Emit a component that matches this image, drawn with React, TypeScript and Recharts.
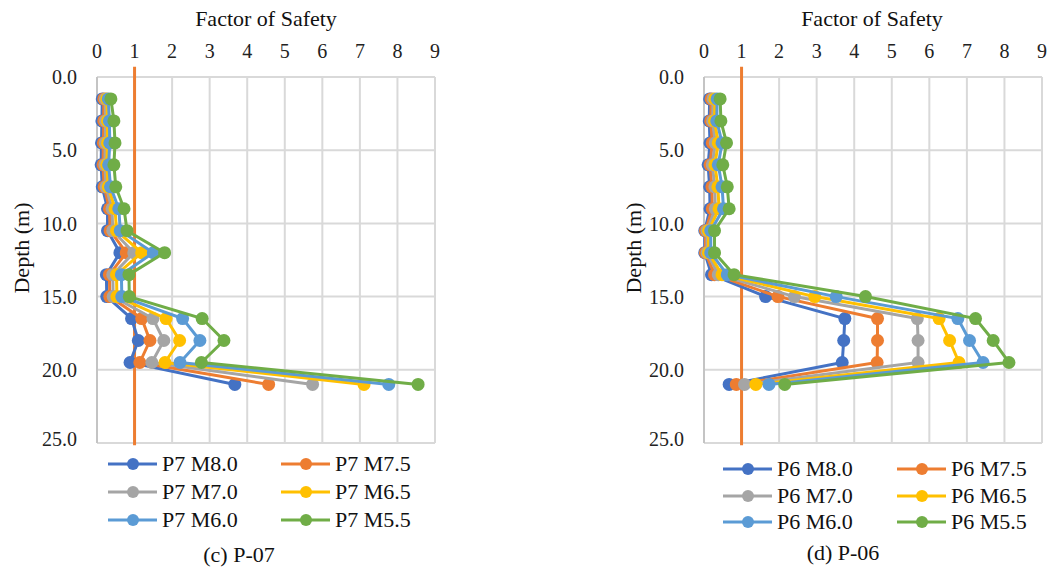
import React from "react";
import {
  ScatterChart,
  Scatter,
  XAxis,
  YAxis,
  CartesianGrid,
  ReferenceLine,
} from "recharts";

const depths = [1.5, 3, 4.5, 6, 7.5, 9, 10.5, 12, 13.5, 15, 16.5, 18, 19.5, 21];
const fsTicks = [0, 1, 2, 3, 4, 5, 6, 7, 8, 9];
const depthTicks = [0, 5, 10, 15, 20, 25];
const magnitudes = ["M8.0", "M7.5", "M7.0", "M6.5", "M6.0", "M5.5"];
const colors = ["#4472C4", "#ED7D31", "#A5A5A5", "#FFC000", "#5B9BD5", "#70AD47"];

// P-07, factor of safety per depth
const p7M80 = [0.14, 0.13, 0.12, 0.11, 0.14, 0.28, 0.28, 0.61, 0.25, 0.26, 0.92, 1.1, 0.88, 3.67];
const p7M75 = [0.18, 0.18, 0.17, 0.16, 0.19, 0.33, 0.35, 0.78, 0.33, 0.34, 1.19, 1.41, 1.14, 4.57];
const p7M70 = [0.22, 0.23, 0.22, 0.21, 0.24, 0.4, 0.42, 0.98, 0.42, 0.43, 1.49, 1.78, 1.46, 5.74];
const p7M65 = [0.26, 0.28, 0.28, 0.26, 0.3, 0.48, 0.52, 1.19, 0.52, 0.53, 1.84, 2.2, 1.81, 7.11];
const p7M60 = [0.3, 0.33, 0.34, 0.31, 0.36, 0.58, 0.62, 1.5, 0.65, 0.66, 2.28, 2.74, 2.21, 7.77];
const p7M55 = [0.37, 0.45, 0.48, 0.45, 0.5, 0.72, 0.8, 1.8, 0.85, 0.86, 2.8, 3.38, 2.78, 8.55];

// P-06
const p6M80 = [0.15, 0.14, 0.16, 0.11, 0.15, 0.16, 0.02, 0.02, 0.2, 1.64, 3.75, 3.72, 3.68, 0.67];
const p6M75 = [0.19, 0.18, 0.22, 0.16, 0.21, 0.22, 0.04, 0.04, 0.28, 1.97, 4.62, 4.62, 4.61, 0.86];
const p6M70 = [0.24, 0.23, 0.3, 0.22, 0.29, 0.3, 0.08, 0.08, 0.38, 2.41, 5.68, 5.7, 5.7, 1.08];
const p6M65 = [0.29, 0.28, 0.38, 0.29, 0.37, 0.4, 0.12, 0.12, 0.48, 2.95, 6.26, 6.54, 6.79, 1.38];
const p6M60 = [0.35, 0.34, 0.48, 0.38, 0.48, 0.52, 0.18, 0.18, 0.62, 3.52, 6.76, 7.07, 7.43, 1.73];
const p6M55 = [0.43, 0.45, 0.6, 0.5, 0.62, 0.67, 0.28, 0.28, 0.8, 4.3, 7.23, 7.7, 8.12, 2.15];

const FONT = "Liberation Serif, DejaVu Serif, serif";

const toPoints = (vals: number[]) => vals.map((fs, i) => ({ x: fs, y: depths[i] }));

const Dot = (color: string) => (p: any) => <circle cx={p.cx} cy={p.cy} r={6.5} fill={color} />;

type PanelProps = {
  left: number;
  width: number;
  marginLeft: number;
  marginRight: number;
  prefix: string;
  series: number[][];
  caption: string;
  titleX: number;
  depthX: number;
  legendCols: number[];
  legendRows: number[];
  captionX: number;
  captionY: number;
};

const Panel = (props: PanelProps) => {
  const { left, width, marginLeft, marginRight, prefix, series } = props;
  return (
    <>
      <div style={{ position: "absolute", left, top: 0 }}>
        <ScatterChart
          width={width}
          height={450}
          margin={{ top: 0, right: marginRight, bottom: 7, left: marginLeft }}
        >
          <CartesianGrid stroke="#d9d9d9" strokeWidth={2} />
          <XAxis
            type="number"
            dataKey="x"
            orientation="top"
            domain={[0, 9]}
            ticks={fsTicks}
            height={77}
            axisLine={false}
            tickLine={false}
            tickSize={0}
            tickMargin={19}
            tick={{ fontFamily: FONT, fontSize: 20, fill: "#222" }}
          />
          <YAxis
            type="number"
            dataKey="y"
            reversed
            domain={[0, 25]}
            ticks={depthTicks}
            width={97}
            axisLine={{ stroke: "#c4c4c4", strokeWidth: 2 }}
            tickLine={false}
            tickSize={0}
            tickMargin={20}
            tickFormatter={(v: number) => v.toFixed(1)}
            tick={{ fontFamily: FONT, fontSize: 20, fill: "#222" }}
          />
          <ReferenceLine
            segment={[
              { x: 1, y: -0.7 },
              { x: 1, y: 25.15 },
            ]}
            ifOverflow="visible"
            stroke="#ED7D31"
            strokeWidth={3}
          />
          {series.map((vals, i) => (
            <Scatter
              key={magnitudes[i]}
              name={`${prefix} ${magnitudes[i]}`}
              data={toPoints(vals)}
              fill={colors[i]}
              line={{ stroke: colors[i], strokeWidth: 3 }}
              lineType="joint"
              shape={Dot(colors[i])}
              isAnimationActive={false}
            />
          ))}
        </ScatterChart>
      </div>
      <div
        style={{
          position: "absolute",
          left: props.titleX,
          top: 19,
          transform: "translate(-50%, -50%)",
          fontFamily: FONT,
          fontSize: 22,
          whiteSpace: "nowrap",
          color: "#111",
        }}
      >
        Factor of Safety
      </div>
      <div
        style={{
          position: "absolute",
          left: props.depthX,
          top: 248,
          transform: "translate(-50%, -50%) rotate(-90deg)",
          fontFamily: FONT,
          fontSize: 22,
          whiteSpace: "nowrap",
          color: "#111",
        }}
      >
        Depth (m)
      </div>
      {series.map((_, i) => {
        const x = props.legendCols[i % 2];
        const y = props.legendRows[Math.floor(i / 2)];
        return (
          <div
            key={`lg-${i}`}
            style={{
              position: "absolute",
              left: x,
              top: y - 12,
              height: 24,
              display: "flex",
              alignItems: "center",
              fontFamily: FONT,
              fontSize: 22,
              whiteSpace: "nowrap",
              color: "#111",
            }}
          >
            <svg width={49} height={14} style={{ marginRight: 5 }}>
              <line x1={0} y1={7} x2={49} y2={7} stroke={colors[i]} strokeWidth={3} />
              <circle cx={25} cy={7} r={6} fill={colors[i]} />
            </svg>
            <span>{`${prefix} ${magnitudes[i]}`}</span>
          </div>
        );
      })}
      <div
        style={{
          position: "absolute",
          left: props.captionX,
          top: props.captionY,
          transform: "translate(-50%, -50%)",
          fontFamily: FONT,
          fontSize: 22,
          whiteSpace: "nowrap",
          color: "#111",
        }}
      >
        {props.caption}
      </div>
    </>
  );
};

export default function App() {
  return (
    <div
      style={{
        position: "absolute",
        left: 0,
        top: 0,
        width: 1049,
        height: 569,
        background: "#fff",
        overflow: "hidden",
      }}
    >
      <Panel
        left={0}
        width={520}
        marginLeft={0}
        marginRight={85}
        prefix="P7"
        series={[p7M80, p7M75, p7M70, p7M65, p7M60, p7M55]}
        caption="(c) P-07"
        titleX={266}
        depthX={22}
        legendCols={[108, 281]}
        legendRows={[464, 492, 520]}
        captionX={239}
        captionY={555}
      />
      <Panel
        left={524}
        width={525}
        marginLeft={83}
        marginRight={7}
        prefix="P6"
        series={[p6M80, p6M75, p6M70, p6M65, p6M60, p6M55]}
        caption="(d) P-06"
        titleX={872}
        depthX={634}
        legendCols={[723, 897]}
        legendRows={[469, 496, 522]}
        captionX={843}
        captionY={553}
      />
    </div>
  );
}
